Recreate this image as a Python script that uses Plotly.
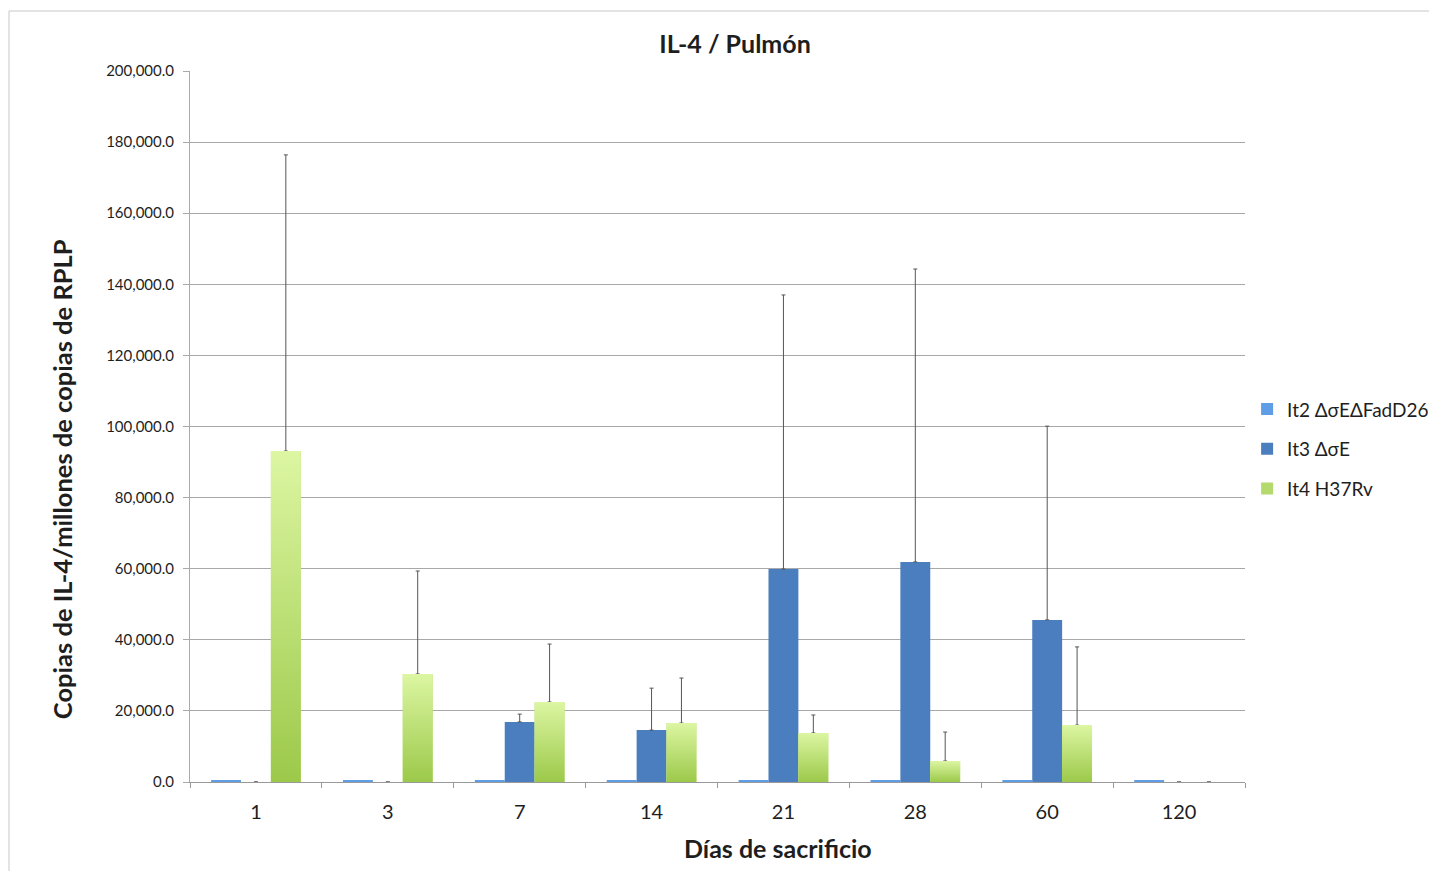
import plotly.graph_objects as go

days = ["1", "3", "7", "14", "21", "28", "60", "120"]
it2_vals = [300, 300, 300, 300, 300, 300, 300, 300]
it3_vals = [0, 0, 16900, 14600, 59900, 61900, 45600, 0]
it3_err = [0, 0, 2200, 11800, 77100, 82400, 54500, 0]
it4_vals = [93100, 30400, 22500, 16600, 13800, 5900, 16000, 0]
it4_err = [83300, 28950, 16300, 12650, 5050, 8150, 22000, 0]

font_fam = "Lato, 'Open Sans', sans-serif"
txt = "#1e1e1e"
BARGAP = 0.32
N_SERIES = 3

fig = go.Figure()
fig.add_trace(go.Bar(
    x=days, y=it2_vals, name="It2 ΔσEΔFadD26",
    marker=dict(color="#5f9de6", line=dict(width=0)),
    legendgroup="a",
))
fig.add_trace(go.Bar(
    x=days, y=it3_vals, name="It3 ΔσE",
    marker=dict(color="#4a7ebf", line=dict(width=0)),
    error_y=dict(type="data", array=it3_err, arrayminus=[0]*len(days), symmetric=False,
                 color="#555555", thickness=1, width=2),
    legendgroup="b",
))
fig.add_trace(go.Bar(
    x=days, y=it4_vals, name="It4 H37Rv",
    marker=dict(color="#b4d96c", line=dict(width=0)),
    error_y=dict(type="data", array=it4_err, arrayminus=[0]*len(days), symmetric=False,
                 color="#555555", thickness=1, width=2),
    legendgroup="c",
))

# vertical colour gradient over the It4 bars (same geometry as the grouped bars)
group_w = 1 - BARGAP
bar_w = group_w / N_SERIES
left_off = -group_w / 2 + 2 * bar_w
for i, v in enumerate(it4_vals):
    if v <= 0:
        continue
    x0 = i + left_off
    x1 = x0 + bar_w
    fig.add_trace(go.Scatter(
        x=[x0, x0, x1, x1, x0], y=[0, v, v, 0, 0], xaxis="x2",
        mode="lines", line=dict(width=0), fill="toself",
        fillgradient=dict(type="vertical",
                          colorscale=[[0, "#9cc94a"], [1, "#dcf6a2"]]),
        showlegend=False, hoverinfo="skip",
    ))

fig.update_layout(
    width=1437, height=871,
    paper_bgcolor="white", plot_bgcolor="white",
    margin=dict(l=182, r=200, t=63, b=97, autoexpand=False),
    barmode="group", bargap=BARGAP, bargroupgap=0,
    font=dict(family=font_fam, color=txt),
    title=dict(text="<b>IL-4 / Pulmón</b>", x=(727/1437), xanchor="center",
               y=1-36/871, yanchor="middle", font=dict(size=25, color=txt)),
    legend=dict(x=1.002, xanchor="left", y=0.468, yanchor="middle",
                font=dict(size=19, color=txt), traceorder="grouped",
                tracegroupgap=12, itemwidth=30),
    showlegend=True,
    xaxis2=dict(overlaying="x", range=[-0.5, len(days) - 0.5], visible=False,
                fixedrange=True),
    xaxis=dict(
        type="category", range=[-0.5, len(days) - 0.5],
        showline=True, linecolor="#999999", linewidth=1,
        ticks="outside", tickson="boundaries", ticklen=5, tickcolor="#999999",
        tickfont=dict(size=20, color=txt), ticklabelstandoff=12,
        showgrid=False,
    ),
)
fig.update_yaxes(
    range=[0, 200000], dtick=20000, tickformat=",.1f",
    showline=True, linecolor="#aaaaaa", linewidth=1,
    ticks="outside", ticklen=6, tickcolor="#aaaaaa",
    gridcolor="#a8a8a8", gridwidth=1,
    tickfont=dict(size=15, color=txt), ticklabelstandoff=6,
    zeroline=False,
)

fig.add_annotation(text="<b>Días de sacrificio</b>", xref="paper", yref="paper",
                   x=0.557, y=-0.0935, xanchor="center", yanchor="middle",
                   showarrow=False, font=dict(size=25, color=txt))
fig.add_annotation(text="<b>Copias de IL-4/millones de copias de RPLP</b>",
                   xref="paper", yref="paper", x=-0.1213, y=0.426,
                   xanchor="center", yanchor="middle", textangle=-90,
                   showarrow=False, font=dict(size=25.5, color=txt))

# outer frame of the chart area
fig.add_shape(type="rect", xref="paper", yref="paper",
              x0=(9-190)/1055, x1=(1445-190)/1055, y0=(782-880)/711, y1=(782-11)/711,
              line=dict(color="#c8c8c8", width=1), fillcolor="rgba(0,0,0,0)", layer="below")

fig.write_html("out.html")
